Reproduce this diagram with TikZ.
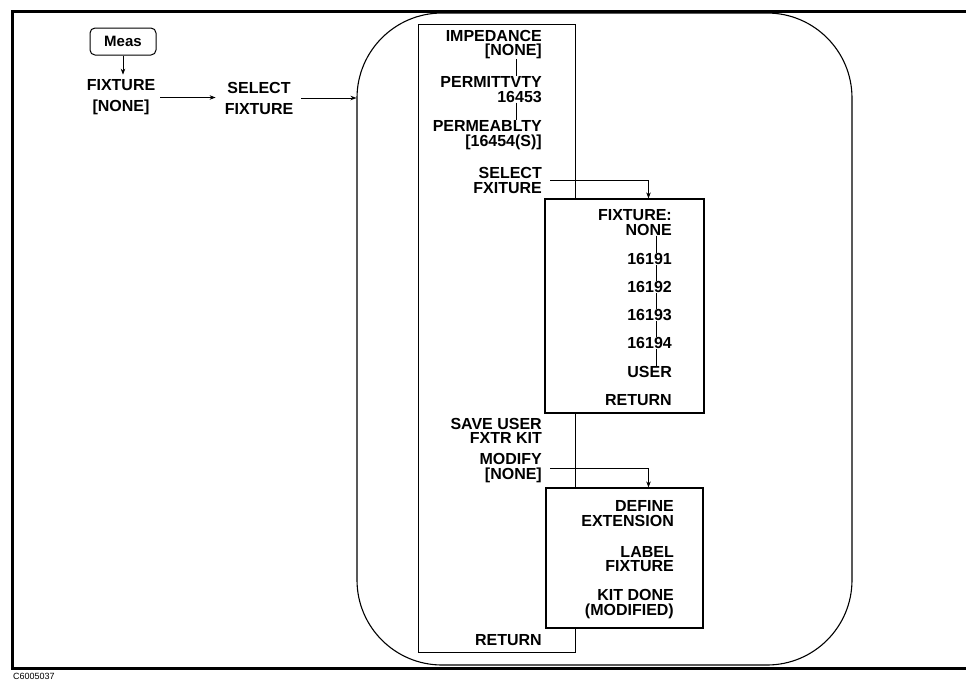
\documentclass[tikz,border=0pt]{standalone}
\usepackage{fontspec}
\setmainfont{Liberation Sans}
\usetikzlibrary{arrows.meta}

\begin{document}
\begin{tikzpicture}[x=1pt,y=-1pt,
  key/.style={font=\fontsize{16}{14.5}\selectfont\bfseries, inner sep=0pt, align=right, anchor=east},
  top/.style={font=\fontsize{16}{21}\selectfont\bfseries, inner sep=0pt, align=center},
  menubox/.style={draw, line width=1pt, fill=white, inner sep=0pt},
  arr/.style={-{Stealth[length=6pt,width=4.5pt]}, line width=0.8pt},
  link/.style={line width=0.7pt}]
\useasboundingbox (0,0) rectangle (966,681);
\draw[line width=3pt] (966,11) -- (12,11) -- (12,668) -- (966,668);
\node[font=\fontsize{9}{9}\selectfont, anchor=west, inner sep=0pt] (code) at (13,676) {C6005037};

\node[draw, rounded corners=5pt, line width=1pt, minimum width=66pt, minimum height=27pt,
  font=\fontsize{15}{15}\selectfont\bfseries, inner sep=0pt] (meas) at (123,41.5) {Meas};
\node[top] (fixnone) at (121,97.5) {FIXTURE\\{[NONE]}};
\node[top] (selfix) at (259,98) {SELECT\\FIXTURE};
\draw[arr, shorten >=5pt] (meas.south) -- (meas.south |- fixnone.north);
\draw[arr] ([xshift=5pt]fixnone.east) -- ([xshift=-9pt]fixnone.east -| selfix.west);

\node[draw, line width=1.1pt, rounded corners=85pt, minimum width=495pt, minimum height=652pt] (menu) at (604.5,339) {};
\draw[arr] ([xshift=8pt]selfix.east) -- (selfix.east -| menu.west);

\node[menubox, minimum width=157pt, minimum height=628pt] (mainbox) at (496.5,338) {};
\node[key] (imp) at (542,44.5) {IMPEDANCE\\{[NONE]}};
\node[key] (perm) at (542,89.5) {PERMITTVTY\\16453};
\node[key] (pmea) at (542,135) {PERMEABLTY\\{[16454(S)]}};
\node[key] (selfx) at (542,180.5) {SELECT\\FXITURE};
\node[key] (save) at (542,431) {SAVE USER\\FXTR KIT};
\node[key] (modify) at (542,468) {MODIFY\\{[NONE]}};
\node[key] (ret) at (542,640) {RETURN};
\draw[link] ([xshift=-26pt]imp.south east) -- ([xshift=-26pt]perm.north east);
\draw[link] ([xshift=-26pt]perm.south east) -- ([xshift=-26pt]pmea.north east);

\node[menubox, line width=1.2pt, minimum width=159pt, minimum height=214pt] (fixbox) at (624.5,306) {};
\node[key] (fnone) at (672,222.5) {FIXTURE:\\NONE};
\node[key] (f1) at (672,259) {16191};
\node[key] (f2) at (672,287) {16192};
\node[key] (f3) at (672,315) {16193};
\node[key] (f4) at (672,343) {16194};
\node[key] (fuser) at (672,372) {USER};
\node[key] (fret) at (672,400) {RETURN};
\foreach \a/\b in {fnone/f1,f1/f2,f2/f3,f3/f4,f4/fuser}
  \draw[link] ([xshift=-16pt]\a.south east) -- ([xshift=-16pt]\b.north east);
\draw[arr] ([xshift=8pt]selfx.east) -| ([xshift=24pt]fixbox.north);

\node[menubox, line width=1.2pt, minimum width=157pt, minimum height=140pt] (modbox) at (624.5,558) {};
\node[key] (defext) at (674,513.5) {DEFINE\\EXTENSION};
\node[key] (label) at (674,559) {LABEL\\FIXTURE};
\node[key] (kit) at (674,604) {KIT DONE\\(MODIFIED)};
\draw[arr] ([xshift=8pt]modify.east) -| ([xshift=24pt]modbox.north);
\end{tikzpicture}
\end{document}
